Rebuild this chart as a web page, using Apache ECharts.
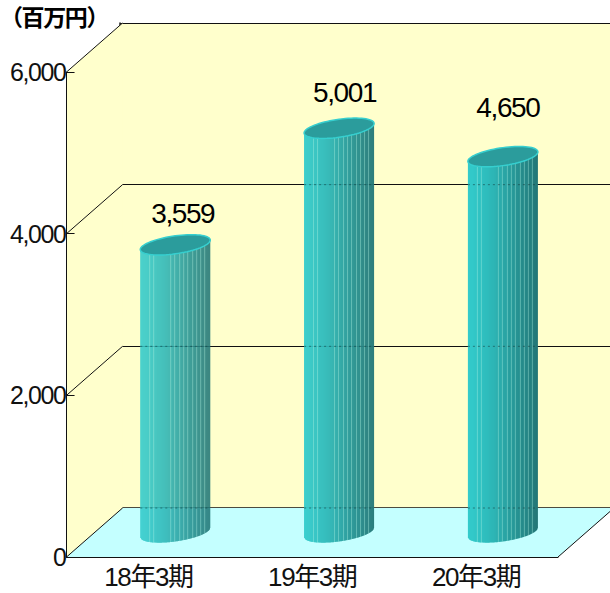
<!DOCTYPE html>
<html><head><meta charset="utf-8">
<style>html,body{margin:0;padding:0;background:#fff}#c{width:610px;height:593px}
#c text{letter-spacing:-1.4px}</style>
<script src="https://cdn.jsdelivr.net/npm/echarts@6/dist/echarts.min.js"></script></head>
<body><div id="c"></div>
<script>
const unitLabel = '（百万円）';
const categories = ['18年3期', '19年3期', '20年3期'];
const values = [3559, 5001, 4650];
const labelShift = [[7.5, -31], [5.5, -36], [5, -49]];
const stripeOffsets = [9, 13, 30, 34, 39, 43, 47, 52, 56, 60, 64];
const yMax = 6000, yStep = 2000;
const depth = [53.6, -49];
const FONT = '"Liberation Sans","Noto Sans CJK JP",sans-serif';

function lerp(a, b, t) { return a.map((v, i) => Math.round(v + (b[i] - v) * t)); }
function shade(t) {
  const stops = [[52, 204, 204], [46, 184, 184], [40, 150, 150], [35, 118, 118]];
  const p = Math.min(t, 0.999) * (stops.length - 1), i = Math.floor(p);
  return lerp(stops[i], stops[i + 1], p - i);
}
const rgb = c => 'rgb(' + c.join(',') + ')';

function renderWalls(params, api) {
  const band = api.size([1, 0])[0];
  const L = api.coord([0, 0])[0] - band / 2;
  const B = api.coord([0, 0])[1], T = api.coord([0, yMax])[1];
  const right = L + band * categories.length;
  const dx = 56, dy = depth[1];
  const kids = [
    { type: 'polygon', shape: { points: [[L, T], [L + dx, T + dy], [L + dx, B + dy], [L, B]] }, style: { fill: '#ffffcc', stroke: 'none' } },
    { type: 'polygon', shape: { points: [[L, B], [L + dx, B + dy], [right + dx, B + dy], [right, B]] }, style: { fill: '#c4ffff', stroke: 'none' } },
    { type: 'line', shape: { x1: right, y1: B, x2: right + dx, y2: B + dy }, style: { stroke: '#111', lineWidth: 1 } }
  ];
  for (let v = 0; v <= yMax; v += yStep) {
    const y = api.coord([0, v])[1];
    kids.push({ type: 'line', shape: { x1: L, y1: y, x2: L + dx, y2: y + dy }, style: { stroke: '#111', lineWidth: 1 } });
  }
  return { type: 'group', children: kids };
}

function renderCyl(params, api) {
  const idx = api.value(0), val = api.value(1);
  const top = api.coord([idx, val]), bot = api.coord([idx, 0]);
  const cx = top[0] + depth[0] / 2, ty = top[1] + depth[1] / 2, by = bot[1] + depth[1] / 2;
  const rx = 35, ry = 9, k = 0.135;
  const kids = [];
  for (let o = 0; o < rx * 2; o++) {
    const a = o - rx, b = Math.min(o + 1.3, rx * 2) - rx;
    const arc = d => by - k * d + ry * Math.sqrt(Math.max(0, 1 - d * d / (rx * rx)));
    let c = shade(o / (rx * 2));
    if (stripeOffsets.indexOf(o) >= 0) c = lerp(c, [170, 240, 225], 0.4);
    kids.push({ type: 'polygon', shape: { points: [[cx + a, ty - k * a], [cx + b, ty - k * b], [cx + b, arc(b)], [cx + a, arc(a)]] }, style: { fill: rgb(c) } });
  }
  for (let v = 0; v <= yMax; v += yStep) {
    const y = api.coord([0, v])[1] + depth[1];
    if (y > ty + 12 && y < by) {
      kids.push({ type: 'line', shape: { x1: cx - rx, y1: y, x2: cx + rx, y2: y }, style: { stroke: 'rgba(20,60,60,0.55)', lineWidth: 1, lineDash: [2, 3] } });
    }
  }
  const pts = [];
  for (let i = 0; i < 72; i++) {
    const t = i / 72 * Math.PI * 2, dx = rx * Math.cos(t);
    pts.push([cx + dx, ty - k * dx + ry * Math.sin(t)]);
  }
  kids.push({ type: 'polygon', shape: { points: pts }, style: { fill: '#2b9c9c', stroke: '#36cfcf', lineWidth: 1.5 } });
  const s = labelShift[idx];
  kids.push({ type: 'text', style: { text: values[idx].toLocaleString('en-US'), x: cx + s[0], y: ty + s[1], align: 'center', verticalAlign: 'middle', font: '28px ' + FONT, fill: '#000' } });
  return { type: 'group', children: kids };
}

const chart = echarts.init(document.getElementById('c'), null, { renderer: 'svg' });
chart.setOption({
  animation: false,
  title: { text: unitLabel, left: 0, top: 4, padding: 0, textStyle: { fontFamily: '"Noto Sans CJK JP"', fontSize: 23, fontWeight: 'bold', color: '#000' } },
  grid: [
    { left: 64, top: 72, width: 494, height: 485, z: 5 },
    { left: 120, top: 23, width: 494, height: 485, show: true, backgroundColor: '#ffffcc', borderWidth: 0 }
  ],
  xAxis: [
    { type: 'category', gridIndex: 0, data: categories, z: 5,
      axisLine: { lineStyle: { color: '#111', width: 1 } },
      axisTick: { inside: true, length: 9, lineStyle: { color: '#111' } },
      axisLabel: { margin: 7, fontFamily: FONT, fontSize: 26, color: '#111' } },
    { type: 'category', gridIndex: 1, data: categories,
      axisLine: { lineStyle: { color: '#111', width: 1.5 } }, axisTick: { show: false }, axisLabel: { show: false } }
  ],
  yAxis: [
    { type: 'value', gridIndex: 0, min: 0, max: yMax, interval: yStep, z: 5,
      axisLine: { show: true, lineStyle: { color: '#111', width: 1 } },
      axisTick: { show: true, inside: true, length: 8, lineStyle: { color: '#111' } },
      splitLine: { show: false },
      axisLabel: { margin: 1, padding: [4, 0, 0, 0], fontFamily: FONT, fontSize: 25, color: '#111', formatter: v => v.toLocaleString('en-US') } },
    { type: 'value', gridIndex: 1, min: 0, max: yMax, interval: yStep,
      axisLine: { show: true, lineStyle: { color: '#222', width: 1.5 } }, axisTick: { show: false }, axisLabel: { show: false },
      splitLine: { show: true, lineStyle: { color: '#111', width: 1, type: 'solid' } } }
  ],
  series: [
    { type: 'custom', xAxisIndex: 0, yAxisIndex: 0, z: 1, clip: false, silent: true, renderItem: renderWalls, data: [[0, 0]], encode: { x: 0, y: 1 } },
    { type: 'custom', xAxisIndex: 0, yAxisIndex: 0, z: 3, clip: false, silent: true, renderItem: renderCyl, data: values.map((v, i) => [i, v]), encode: { x: 0, y: 1 } }
  ]
});
</script></body></html>
